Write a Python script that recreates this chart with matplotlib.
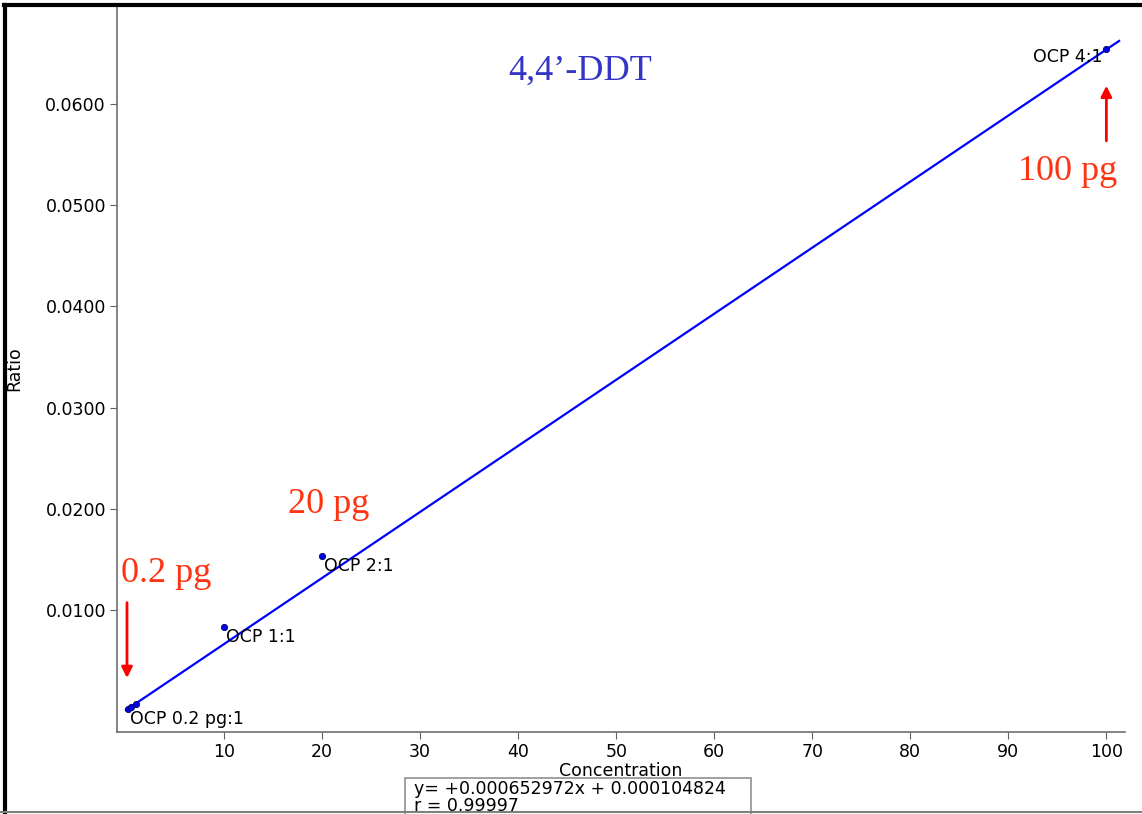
import numpy as np
import matplotlib.pyplot as plt
from matplotlib.lines import Line2D
from matplotlib.patches import Rectangle

# ===========================
# Data
conc = [0.2, 0.5, 1.0, 10, 20, 100]
ratio = [0.00024, 0.00045, 0.00075, 0.00832, 0.01534, 0.06543]
pt_labels = ['OCP 0.2 pg:1', '', '', 'OCP 1:1', 'OCP 2:1', 'OCP 4:1']
slope = 0.000652972
intercept = 0.000104824
r_val = 0.99997
x_ticks = [10, 20, 30, 40, 50, 60, 70, 80, 90, 100]
y_ticks = [0.01, 0.02, 0.03, 0.04, 0.05, 0.06]

W, H = 1142, 814
fs = 12.5
fig = plt.figure(figsize=(W / 100, H / 100), dpi=100)
ax = fig.add_axes([117 / W, 1 - 732 / H, (1125 - 117) / W, (732 - 5) / H])

# regression line
xl = np.array([0.0, 101.3])
ax.plot(xl, slope * xl + intercept, color='#0000ff', lw=1.6, zorder=2)
ax.plot(conc, ratio, 'o', color='#0000ee', ms=4.5, mec='#000066', mew=0.6, zorder=3)

for x, y, s in zip(conc, ratio, pt_labels):
    if s == '':
        continue
    if s == 'OCP 4:1':
        ax.text(x - 0.4, y - 0.0008, s, fontsize=fs, ha='right', va='center')
    else:
        ax.text(x + 0.2, y - 0.0001, s, fontsize=fs, ha='left', va='top')

ax.set_xlim(-0.92, 101.9)
ax.set_ylim(-0.00206, 0.0698)
ax.set_xticks(x_ticks)
ax.set_yticks(y_ticks)
ax.set_yticklabels(['%.4f' % v for v in y_ticks])
ax.tick_params(labelsize=fs, length=5, color='#606060', pad=3)
for sp in ['top', 'right']:
    ax.spines[sp].set_visible(False)
for sp in ['left', 'bottom']:
    ax.spines[sp].set_color('#707070')
    ax.spines[sp].set_linewidth(1.2)
ax.set_xlabel('Concentration', fontsize=fs, labelpad=1)
ax.set_ylabel('Ratio', fontsize=fs, labelpad=16)

# title and annotations
serif = 'Liberation Serif'
ax.text(46.3, 0.0633, '4,4\u2019-DDT', fontsize=26, color='#3535c5',
        family=serif, ha='center', va='center')
red = '#ff3311'
ax.text(-0.5, 0.0136, '0.2 pg', fontsize=26, color=red, family=serif,
        ha='left', va='center')
ax.text(16.5, 0.0204, '20 pg', fontsize=26, color=red, family=serif,
        ha='left', va='center')
ax.text(96.0, 0.0533, '100 pg', fontsize=26, color=red, family=serif,
        ha='center', va='center')
ax.annotate('', xy=(0.1, 0.0030), xytext=(0.1, 0.0110),
            arrowprops=dict(arrowstyle='-|>', color='red', lw=2, mutation_scale=16))
ax.annotate('', xy=(100.0, 0.0621), xytext=(100.0, 0.0561),
            arrowprops=dict(arrowstyle='-|>', color='red', lw=2, mutation_scale=16))

# equation box below the axis
fig.patches.append(Rectangle((405 / W, -0.01), (751 - 405) / W, (H - 778) / H + 0.01,
                             transform=fig.transFigure, fill=False,
                             edgecolor='#909090', lw=1.2))
fig.text(414 / W, 1 - 789 / H, 'y= +%.9fx + %.9f' % (slope, intercept),
         fontsize=fs, va='center', ha='left')
fig.text(414 / W, 1 - 806 / H, 'r = %.5f' % r_val, fontsize=fs, va='center', ha='left')

# outer frame
fig.lines.append(Line2D([5 / W, 5 / W], [0, 1 - 5 / H], transform=fig.transFigure,
                        color='black', lw=3))
fig.lines.append(Line2D([3.5 / W, 1], [1 - 5 / H, 1 - 5 / H], transform=fig.transFigure,
                        color='black', lw=3))
fig.lines.append(Line2D([0, 1], [1 - 812 / H, 1 - 812 / H], transform=fig.transFigure,
                        color='#808080', lw=1.5))

fig.savefig('out.png', dpi=100)
